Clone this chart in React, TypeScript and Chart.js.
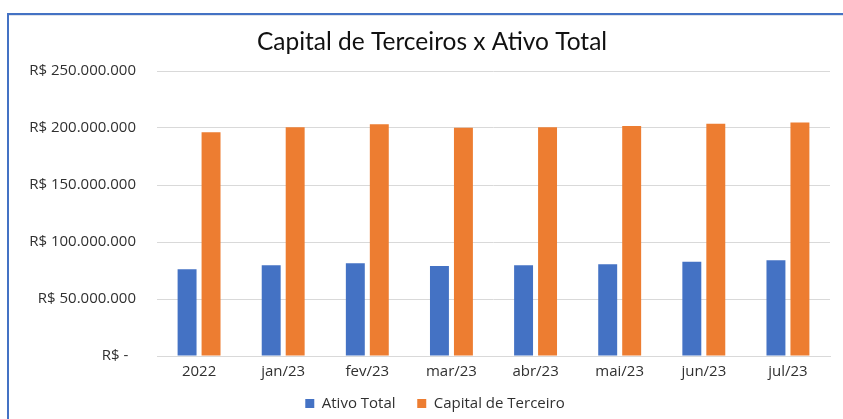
import React, { useEffect, useRef } from "react";
import { Chart, registerables } from "chart.js";

Chart.register(...registerables);

const categories = ["2022", "jan/23", "fev/23", "mar/23", "abr/23", "mai/23", "jun/23", "jul/23"];
const ativoTotal = [76200000, 79500000, 81300000, 78900000, 79500000, 80400000, 82700000, 83900000];
const capitalTerceiro = [196300000, 200600000, 203200000, 200300000, 200600000, 201800000, 203800000, 204900000];
const yTickLabels = ["R$ -  ", "R$ 50.000.000", "R$ 100.000.000", "R$ 150.000.000", "R$ 200.000.000", "R$ 250.000.000"];
const seriesNames = ["Ativo Total", "Capital de Terceiro"];
const titleText = "Capital de Terceiros x Ativo Total";

const titlePlugin = {
  id: "centeredTitle",
  afterLayout(chart: any) {
    if (chart.legend) {
      chart.legend.left += 15;
      chart.legend.right += 15;
    }
  },
  afterDraw(chart: any) {
    const ctx = chart.ctx;
    ctx.save();
    ctx.font = "normal 24.5px Lato";
    ctx.fillStyle = "#111111";
    ctx.textAlign = "center";
    ctx.textBaseline = "middle";
    ctx.fillText(titleText, 432, 42);
    ctx.restore();
  },
};

export default function App() {
  const ref = useRef<HTMLCanvasElement | null>(null);
  useEffect(() => {
    if (!ref.current) return;
    const chart = new Chart(ref.current, {
      type: "bar",
      data: {
        labels: categories,
        datasets: [
          { label: seriesNames[0], data: ativoTotal, backgroundColor: "#4472C4", categoryPercentage: 0.57, barPercentage: 0.79 },
          { label: seriesNames[1], data: capitalTerceiro, backgroundColor: "#ED7D31", categoryPercentage: 0.57, barPercentage: 0.79 },
        ],
      },
      plugins: [titlePlugin],
      options: {
        responsive: false,
        animation: false,
        devicePixelRatio: 1,
        layout: { padding: { left: 10, right: 13, top: 71, bottom: -2 } },
        plugins: {
          title: { display: false },
          legend: {
            position: "bottom",
            labels: {
              boxWidth: 9,
              boxHeight: 9,
              padding: 10,
              color: "#303030",
              font: { family: "Open Sans", size: 15 },
              generateLabels: (c: any) => {
                const items = Chart.defaults.plugins.legend.labels.generateLabels(c);
                return items.map((it: any, i: number) => ({ ...it, text: i < items.length - 1 ? it.text + "   " : it.text }));
              },
            },
          },
          tooltip: { enabled: false },
        },
        scales: {
          x: {
            grid: { display: false, drawTicks: false },
            border: { color: "#D9D9D9" },
            ticks: { color: "#303030", font: { family: "Open Sans", size: 15 }, padding: 7 },
            afterFit: (s: any) => { s.height = 30; },
          },
          y: {
            min: 0,
            max: 250000000,
            grid: { color: "#D9D9D9", drawTicks: false },
            border: { display: false },
            ticks: {
              stepSize: 50000000,
              color: "#303030",
              font: { family: "Open Sans", size: 15 },
              padding: 21,
              callback: (_v: any, i: number) => yTickLabels[i],
            },
            afterFit: (s: any) => { s.width = 147; },
          },
        },
      },
    });
    return () => chart.destroy();
  }, []);
  return (
    <div style={{ position: "fixed", left: 0, top: 0, width: 843, height: 419, background: "#fff" }}>
      <canvas ref={ref} width={843} height={419} style={{ position: "absolute", left: 0, top: 0 }} />
      <div style={{ position: "absolute", left: 7, top: 13, width: 836, height: 2, background: "#4472C4" }} />
      <div style={{ position: "absolute", left: 9, top: 15, width: 834, height: 1, background: "#dfe3ea" }} />
      <div style={{ position: "absolute", left: 7, top: 13, width: 2, height: 406, background: "#4472C4" }} />
    </div>
  );
}
